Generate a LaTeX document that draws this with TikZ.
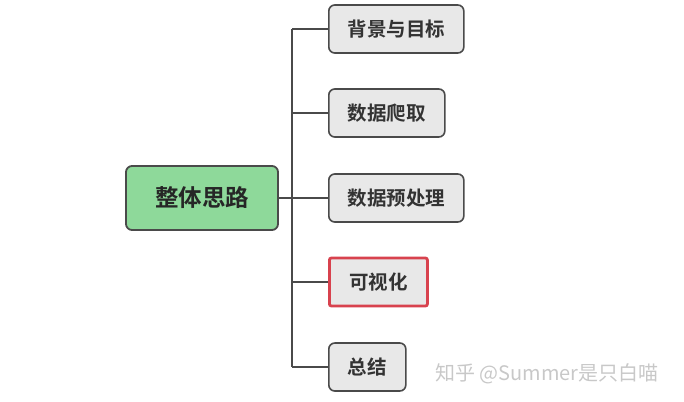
\documentclass[tikz,border=0pt]{standalone}
\usepackage{fontspec}
\newfontfamily\cjk{Noto Sans CJK SC}
\newfontfamily\cjkb{Noto Sans CJK SC Bold}
\setmainfont{Noto Sans CJK SC}
\definecolor{rootfill}{HTML}{8ED99A}
\definecolor{childfill}{HTML}{E8E8E8}
\definecolor{edge}{HTML}{4A4A4A}
\definecolor{hl}{HTML}{D8424E}
\definecolor{wm}{HTML}{C8C8C8}
\tikzset{
  rootbox/.style={draw=edge, line width=1.8pt, fill=rootfill, rounded corners=6pt, minimum width=152pt, minimum height=64pt, font=\cjkb\fontsize{23.5}{23.5}\selectfont, text=black!85, inner sep=0pt},
  childbox/.style={draw=edge, line width=1.6pt, fill=childfill, rounded corners=6pt, minimum height=48pt, anchor=west, font=\cjkb\fontsize{19.5}{19.5}\selectfont, text=black!80, inner sep=0pt},
  hlbox/.style={childbox, draw=hl, line width=2.8pt, rounded corners=2pt},
  conn/.style={draw=edge, line width=1.4pt},
}
\begin{document}
\begin{tikzpicture}[x=1pt,y=-1pt]
\useasboundingbox (0,0) rectangle (684,401);
\node[rootbox] (root) at (202,198) {整体思路};
\node[childbox, minimum width=135pt] (c1) at (328,29) {背景与目标};
\node[childbox, minimum width=116pt] (c2) at (328,113) {数据爬取};
\node[childbox, minimum width=135pt] (c3) at (328,198) {数据预处理};
\node[hlbox, minimum width=98pt] (c4) at (328,282) {可视化};
\node[childbox, minimum width=77pt] (c5) at (328,367) {总结};
\coordinate (top) at (292,29);
\coordinate (bot) at (292,367);
\coordinate (mid) at (292,198);
\draw[conn] (top) -- (bot);
\draw[conn] (root.east) -- (mid);
\foreach \c in {c1,c2,c3,c4,c5} {
  \draw[conn] (\c.west) -- (top |- \c.west);
}
\node[anchor=west, text=wm, font=\cjk\fontsize{20}{20}\selectfont, inner sep=0pt] (wmark) at (435,374) {知乎 @Summer是只白喵};
\end{tikzpicture}
\end{document}
